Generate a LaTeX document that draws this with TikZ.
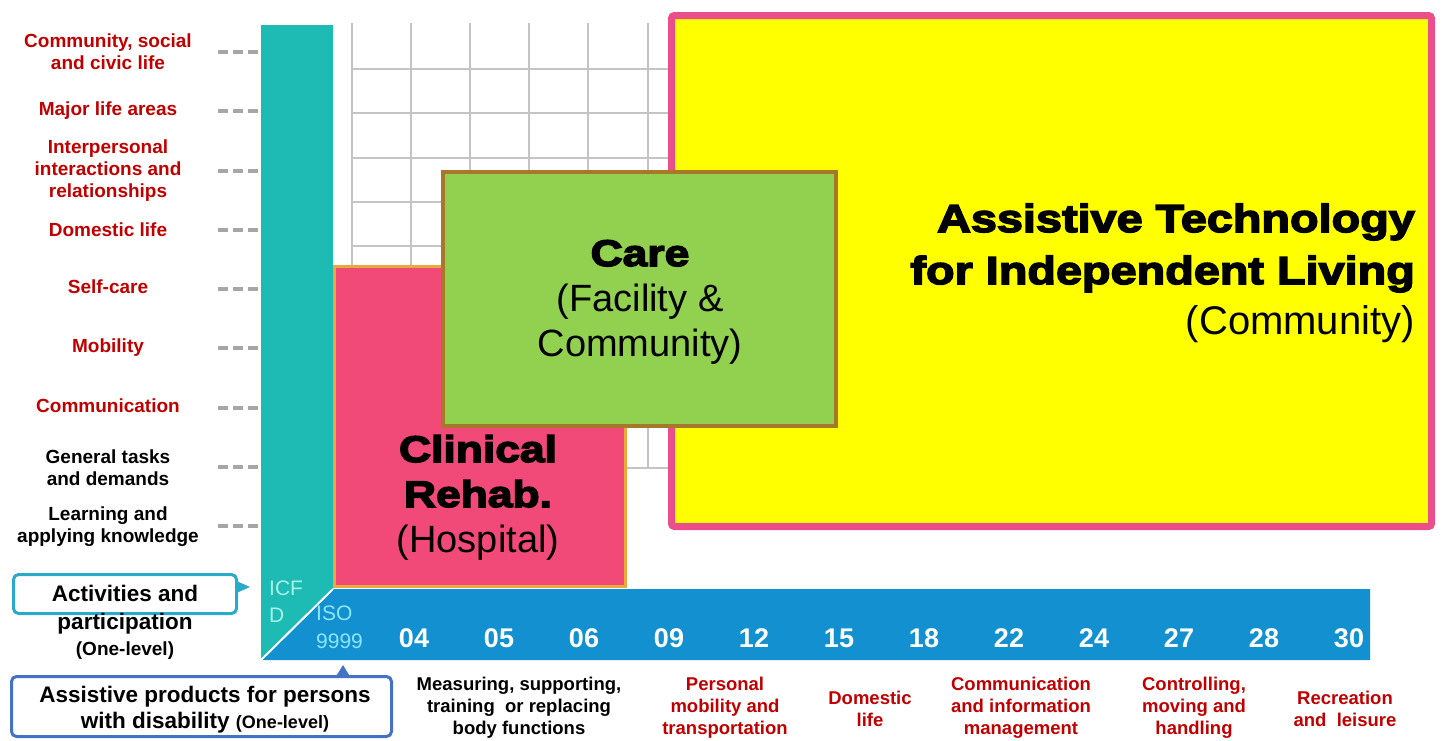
\documentclass[tikz,border=0pt]{standalone}
\usepackage{fontspec}
\setmainfont{Liberation Sans}
\newfontfamily\heavyfont{Liberation Sans Bold}[FakeStretch=1.2,FakeBold=4]
\usepackage{tikz}

\definecolor{icfteal}{HTML}{1DBBB4}
\definecolor{isoblue}{HTML}{1290D0}
\definecolor{rehabpink}{HTML}{F24A78}
\definecolor{rehabline}{HTML}{ECA93B}
\definecolor{caregreen}{HTML}{92D050}
\definecolor{careline}{HTML}{A8782A}
\definecolor{livingyellow}{HTML}{FFFF00}
\definecolor{livingline}{HTML}{EA4F8C}
\definecolor{labelred}{HTML}{C00000}
\definecolor{gridgray}{HTML}{C4C4C4}
\definecolor{tickgray}{HTML}{A6A6A6}
\definecolor{actline}{HTML}{2AA9C9}
\definecolor{apline}{HTML}{4472C4}
\definecolor{icftext}{HTML}{A8F2E6}
\definecolor{isotext}{HTML}{8EE6FA}

\begin{document}
\begin{tikzpicture}[x=1pt, y=-1pt,
    leftlabel/.style={align=center, inner sep=0pt, text=labelred, font=\bfseries\fontsize{19}{22}\selectfont},
    botlabel/.style={align=center, inner sep=0pt, text=labelred, font=\bfseries\fontsize{18.5}{22}\selectfont},
    isonum/.style={inner sep=0pt, text=white, font=\bfseries\fontsize{27}{27}\selectfont},
    heavytext/.style={inner sep=0pt, anchor=base, font=\heavyfont\fontsize{37}{45}\selectfont},
    plaintext/.style={inner sep=0pt, anchor=base, font=\fontsize{38}{45}\selectfont},
    callouttext/.style={inner sep=0pt, anchor=base, font=\bfseries\fontsize{22.5}{27}\selectfont}]

    \useasboundingbox (0, 0) rectangle (1443, 740);

    % draw grid
    \foreach \gx in {352, 411, 470, 529, 588, 648}
        \draw[color=gridgray, line width=2pt] (\gx, 23) -- (\gx, 468);
    \foreach \gy in {0, ..., 9}
        \draw[color=gridgray, line width=2pt] (352, {69 + 44.3 * \gy}) -- (668, {69 + 44.3 * \gy});

    % draw ICF and ISO bars
    \fill[color=icfteal] (261, 25) -- (333, 25) -- (333, 589) -- (261, 660) -- cycle;
    \fill[color=isoblue] (261, 660) -- (333, 589) -- (1370, 589) -- (1370, 660) -- cycle;
    \draw[color=white, line width=2pt] (261, 660) -- (333, 589);

    % draw dashed ticks
    \foreach \i in {0, ..., 8}
        \draw[color=tickgray, line width=4pt, dash pattern=on 10pt off 5pt] (218, {52 + 59.25 * \i}) -- (258, {52 + 59.25 * \i});

    % draw the three settings
    \filldraw[fill=livingyellow, draw=livingline, line width=7pt, rounded corners=3pt] (671.5, 15.5) rectangle (1431.5, 526.5);
    \filldraw[fill=rehabpink, draw=rehabline, line width=3pt] (334.5, 266.5) rectangle (625.5, 586.5);
    \filldraw[fill=caregreen, draw=careline, line width=4pt] (443, 172) rectangle (836, 426);

    % texts of the settings
    \node[heavytext, anchor=base east, font=\heavyfont\fontsize{39}{45}\selectfont] (atlive1) at (1415, 232) {Assistive Technology};
    \node[heavytext, anchor=base east, font=\heavyfont\fontsize{39}{45}\selectfont] (atlive2) at (1415, 284) {for Independent Living};
    \node[plaintext, anchor=base east, font=\fontsize{40}{45}\selectfont] (atlive3) at (1415, 334) {(Community)};

    \node[heavytext] (care1) at (640, 266) {Care};
    \node[plaintext] (care2) at (640, 311) {(Facility \&};
    \node[plaintext] (care3) at (640, 356) {Community)};

    \node[heavytext] (rehab1) at (478, 462) {Clinical};
    \node[heavytext] (rehab2) at (478, 507) {Rehab.};
    \node[plaintext] (rehab3) at (478, 552) {(Hospital)};

    % ICF activities
    \node[leftlabel] (icf9) at (108, 52) {Community, social\\and civic life};
    \node[leftlabel] (icf8) at (108, 111) {Major life areas};
    \node[leftlabel] (icf7) at (108, 171) {Interpersonal\\interactions and\\relationships};
    \node[leftlabel] (icf6) at (108, 230) {Domestic life};
    \node[leftlabel] (icf5) at (108, 287) {Self-care};
    \node[leftlabel] (icf4) at (108, 348) {Mobility};
    \node[leftlabel] (icf3) at (108, 406) {Communication};
    \node[leftlabel, text=black] (icf2) at (108, 468) {General tasks\\and demands};
    \node[leftlabel, text=black] (icf1) at (108, 527) {Learning and\\applying knowledge};

    % ISO classes
    \node[anchor=west, align=left, inner sep=0pt, text=icftext, font=\fontsize{21}{27}\selectfont] (icf) at (269, 602) {ICF\\D};
    \node[anchor=west, align=left, inner sep=0pt, text=isotext, font=\fontsize{21}{28}\selectfont] (iso) at (316, 627) {ISO\\9999};
    \foreach \code [count=\k from 0] in {04, 05, 06, 09, 12, 15, 18, 22, 24, 27, 28, 30}
        \node[isonum] (iso\code) at ({414 + 85 * \k}, 638) {\code};

    \node[botlabel, text=black] (iso04name) at (519, 708) {Measuring, supporting,\\training~ or replacing\\body functions};
    \node[botlabel] (iso12name) at (725, 708) {Personal\\mobility and\\transportation};
    \node[botlabel] (iso15name) at (870, 709) {Domestic\\life};
    \node[botlabel] (iso22name) at (1021, 708) {Communication\\and information\\management};
    \node[botlabel] (iso24name) at (1194, 708) {Controlling,\\moving and\\handling};
    \node[botlabel] (iso30name) at (1345, 709) {Recreation\\and~ leisure};

    % callouts
    \coordinate (icftip) at (250, 587);
    \coordinate (isotip) at (343, 665);
    \node[draw=actline, fill=white, line width=3pt, rounded corners=5pt, inner sep=0pt,
        minimum width=223pt, minimum height=39pt] (actbox) at (125, 594) {};
    \fill[actline] (236.5, 581) -- (icftip) -- (236.5, 593) -- cycle;

    \node[draw=apline, fill=white, line width=3pt, rounded corners=5pt, inner sep=0pt,
        minimum width=380pt, minimum height=60pt] (apbox) at (201.5, 706.5) {};
    \fill[apline] (336, 676.5) -- (isotip) -- (350, 676.5) -- cycle;

    \node[callouttext] (act1) at (125, 601) {Activities and};
    \node[callouttext] (act2) at (125, 629) {participation};
    \node[callouttext, font=\bfseries\fontsize{19}{22}\selectfont] (act3) at (125, 655) {(One-level)};
    \node[callouttext] (ap1) at (205, 702) {Assistive products for persons};
    \node[callouttext] (ap2) at (205, 728) {with disability {\fontsize{18}{22}\selectfont(One-level)}};

\end{tikzpicture}
\end{document}
